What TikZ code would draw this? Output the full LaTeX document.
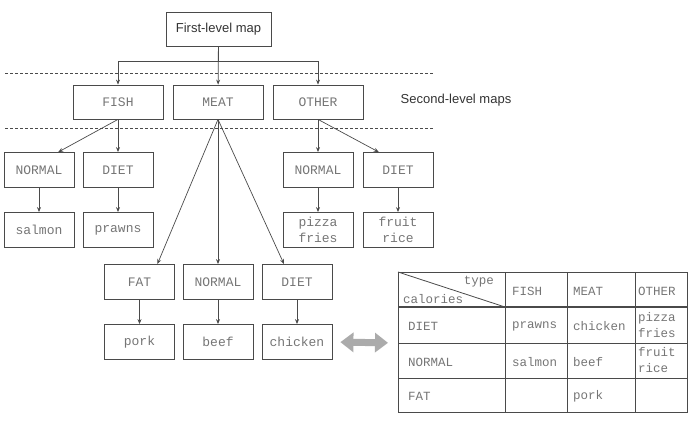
\documentclass[tikz,border=0pt]{standalone}
\usepackage{fontspec}
\setmainfont{Liberation Sans}
\newfontfamily\codefont{Liberation Mono}
\usetikzlibrary{arrows.meta}
\definecolor{linegray}{HTML}{4A4A4A}
\definecolor{codegray}{HTML}{757575}
\definecolor{labelgray}{HTML}{333333}
\definecolor{fatgray}{HTML}{ABABAB}

\tikzset{
  mapbox/.style={draw=linegray, line width=0.8pt, inner sep=0pt, minimum height=34pt,
    text=codegray, font=\codefont\fontsize{13}{16}\selectfont, align=center},
  lvltwo/.style={mapbox, minimum width=90pt},
  lvlthree/.style={mapbox, minimum width=70pt, minimum height=35pt},
  arr/.style={draw=linegray, line width=0.7pt, -{Stealth[length=5pt,width=4pt]}},
  sep/.style={draw=linegray, line width=0.6pt, dash pattern=on 3pt off 2pt},
  tbl/.style={draw=linegray, line width=0.8pt},
  cell/.style={anchor=west, inner sep=0pt, text=codegray,
    font=\codefont\fontsize{12.5}{16}\selectfont, align=left},
  fatarr/.style={draw=fatgray, line width=7pt,
    {Triangle[length=13pt,width=19pt]}-{Triangle[length=13pt,width=19pt]}},
}

\begin{document}
\begin{tikzpicture}[x=1pt,y=-1pt]
\useasboundingbox (0,0) rectangle (696,422);

\node[mapbox, minimum width=105pt, text=labelgray, font=\fontsize{13}{15}\selectfont] (first) at (218.5,29) {First-level map};
\node[lvltwo] (fish) at (118,102) {FISH};
\node[lvltwo] (meat) at (218,102) {MEAT};
\node[lvltwo] (other) at (318,102) {OTHER};
\node[text=labelgray, font=\fontsize{13}{15}\selectfont] (second) at (456,100) {Second-level maps};

\draw[sep] (5,73) -- (433,73);
\draw[sep] (5,128) -- (433,128);

\node[lvlthree] (fnormal) at (39,170) {NORMAL};
\node[lvlthree] (fdiet) at (118,170) {DIET};
\node[lvlthree] (salmon) at (39,230) {salmon};
\node[lvlthree] (prawns) at (118,230) {prawns};
\node[lvlthree] (onormal) at (318,170) {NORMAL};
\node[lvlthree] (odiet) at (398,170) {DIET};
\node[lvlthree] (pizza) at (318,230) {pizza\\fries};
\node[lvlthree] (fruit) at (398,230) {fruit\\rice};
\node[lvlthree] (fat) at (139.5,282) {FAT};
\node[lvlthree] (mnormal) at (218,282) {NORMAL};
\node[lvlthree] (mdiet) at (297,282) {DIET};
\node[lvlthree] (pork) at (139.5,342) {pork};
\node[lvlthree] (beef) at (218,342) {beef};
\node[lvlthree] (chicken) at (297,342) {chicken};

\coordinate (hub) at (218.5,61);
\draw[arr] (first) -- (hub) -| (fish);
\draw[arr] (hub) -| (other);
\draw[arr] (first) -- (meat);

\draw[arr] (fish.south) -- (fnormal.43);
\draw[arr] (fish) -- (fdiet);
\draw[arr] (other) -- (onormal);
\draw[arr] (other.south) -- (odiet.137);
\draw[arr] (meat.south) -- (fat.45);
\draw[arr] (meat) -- (mnormal);
\draw[arr] (meat.south) -- (mdiet.126);
\foreach \a/\b in {fnormal/salmon, fdiet/prawns, onormal/pizza, odiet/fruit,
                   fat/pork, mnormal/beef, mdiet/chicken}
  \draw[arr] (\a) -- (\b);

\draw[tbl] (398,272) rectangle (687,412);
\foreach \x in {505,567,635} \draw[tbl] (\x,272) -- (\x,412);
\foreach \y in {343,378} \draw[tbl] (398,\y) -- (687,\y);
\draw[tbl, line width=1.4pt] (398,307) -- (687,307);
\draw[tbl] (398,272) -- (505,307);

\node[cell, anchor=east] (ttype) at (494,282) {type};
\node[cell] (tcal) at (403,299) {calories};
\foreach \n/\x/\y/\t in {hfish/512/291/FISH, hmeat/573/291/MEAT, hother/638/291/OTHER,
    rdiet/408/326/DIET, rnormal/408/362/NORMAL, rfat/408/396/FAT,
    cprawns/512/326/prawns, cchicken/573/326/chicken, cpizza/638/325/{pizza\\fries},
    csalmon/512/362/salmon, cbeef/573/362/beef, cfruit/638/360/{fruit\\rice},
    cpork/573/396/pork}
  \node[cell] (\n) at (\x,\y) {\t};

\coordinate (tblwest) at (398,343);
\draw[fatarr, shorten <=8pt, shorten >=10pt] (chicken.east) -- (tblwest);
\end{tikzpicture}
\end{document}
